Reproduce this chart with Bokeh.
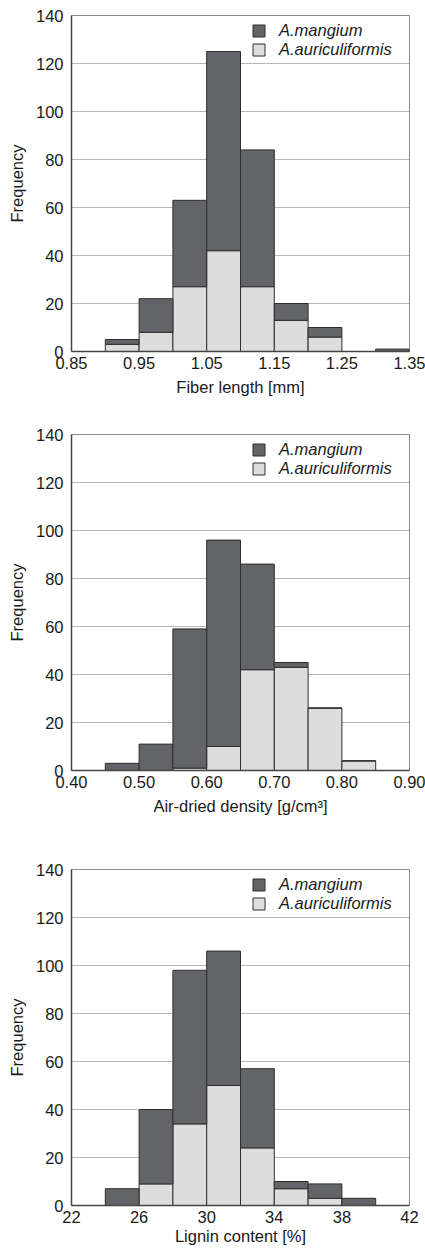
from bokeh.plotting import figure
from bokeh.layouts import column
from bokeh.models import (Range1d, FixedTicker, NumeralTickFormatter, Legend,
                          LegendItem, ColumnDataSource)
from bokeh.embed import file_html
from bokeh.resources import INLINE

# ---------------- data ----------------
# Fiber length [mm], bin width 0.05
fiber_left = [0.90, 0.95, 1.00, 1.05, 1.10, 1.15, 1.20, 1.25, 1.30]
fiber_bin = 0.05
fiber_auri = [3, 8, 27, 42, 27, 13, 6, 0, 0]
fiber_mang = [2, 14, 36, 83, 57, 7, 4, 0, 1]
fiber_ticks = [0.85, 0.95, 1.05, 1.15, 1.25, 1.35]

# Air-dried density [g/cm3], bin width 0.05
dens_left = [0.45, 0.50, 0.55, 0.60, 0.65, 0.70, 0.75, 0.80]
dens_bin = 0.05
dens_auri = [0, 0, 1, 10, 42, 43, 26, 4]
dens_mang = [3, 11, 58, 86, 44, 2, 0, 0]
dens_ticks = [0.40, 0.50, 0.60, 0.70, 0.80, 0.90]

# Lignin content [%], bin width 2
lig_left = [24, 26, 28, 30, 32, 34, 36, 38]
lig_bin = 2
lig_auri = [0, 9, 34, 50, 24, 7, 3, 0]
lig_mang = [7, 31, 64, 56, 33, 3, 6, 3]
lig_ticks = [22, 26, 30, 34, 38, 42]

y_ticks = [0, 20, 40, 60, 80, 100, 120, 140]

# ---------------- style ----------------
FONT = "Liberation Sans"
FS = "16.5px"
DARK = "#636467"
LIGHT = "#dcdddc"
EDGE = "#2e2e2e"
TXT = "#1a1a1a"
W = 425
LEFT = 71
FRAME_W = 338


def panel(left, binw, auri, mang, xr, xticks, fmt, xlabel, height,
          top_b, bottom_b, tick_standoff, label_standoff):
    src = ColumnDataSource(dict(
        x=[l + binw / 2 for l in left],
        auri=auri,
        mang=mang,
    ))
    p = figure(width=W, height=height, output_backend="svg",
               toolbar_location=None,
               x_range=Range1d(*xr), y_range=Range1d(0, 140),
               min_border_left=LEFT, min_border_right=W - LEFT - FRAME_W,
               min_border_top=top_b, min_border_bottom=bottom_b)
    rs = p.vbar_stack(["auri", "mang"], x="x", width=binw, source=src,
                      fill_color=[LIGHT, DARK], line_color=EDGE,
                      line_width=1)
    p.xgrid.visible = False
    p.ygrid.grid_line_color = "#6e6e6e"
    p.ygrid.grid_line_dash = "1 1"
    p.ygrid.grid_line_width = 1
    p.outline_line_color = "#8a8a8a"
    p.outline_line_width = 1

    p.xaxis.ticker = FixedTicker(ticks=xticks)
    p.xaxis.formatter = NumeralTickFormatter(format=fmt)
    p.yaxis.ticker = FixedTicker(ticks=y_ticks)
    for ax in (p.xaxis, p.yaxis):
        ax.major_tick_out = 0
        ax.major_tick_in = 0
        ax.minor_tick_out = 0
        ax.minor_tick_in = 0
        ax.axis_line_color = "#444444"
        ax.axis_line_width = 1.5
        ax.major_label_text_font = FONT
        ax.major_label_text_font_size = FS
        ax.major_label_text_color = TXT
        ax.axis_label_text_font = FONT
        ax.axis_label_text_font_size = FS
        ax.axis_label_text_font_style = "normal"
        ax.axis_label_text_color = TXT
    p.xaxis.major_label_standoff = tick_standoff
    p.yaxis.major_label_standoff = 8
    p.xaxis.axis_label = xlabel
    p.xaxis.axis_label_standoff = label_standoff
    p.yaxis.axis_label = "Frequency"
    p.yaxis.axis_label_standoff = 7

    legend = Legend(items=[LegendItem(label="A.mangium", renderers=[rs[1]]),
                           LegendItem(label="A.auriculiformis", renderers=[rs[0]])],
                    location=(180, 292))
    legend.glyph_width = 15
    legend.glyph_height = 15
    legend.label_height = 15
    legend.spacing = 0
    legend.padding = 0
    legend.margin = 0
    legend.label_standoff = 13
    legend.border_line_color = None
    legend.background_fill_alpha = 0
    legend.label_text_font = FONT
    legend.label_text_font_size = FS
    legend.label_text_font_style = "italic"
    legend.label_text_color = TXT
    p.add_layout(legend)
    return p


p1 = panel(fiber_left, fiber_bin, fiber_auri, fiber_mang, (0.85, 1.35),
           fiber_ticks, "0.00", "Fiber length [mm]", 414, 15, 63, 5, 6)
p2 = panel(dens_left, dens_bin, dens_auri, dens_mang, (0.40, 0.90),
           dens_ticks, "0.00", "Air-dried density [g/cm³]", 435, 20, 79, 5, 6)
p3 = panel(lig_left, lig_bin, lig_auri, lig_mang, (22, 42),
           lig_ticks, "0", "Lignin content [%]", 401, 20, 45, 5, 1)

layout = column(p1, p2, p3, spacing=0)
open("out.html", "w").write(file_html(layout, INLINE))
